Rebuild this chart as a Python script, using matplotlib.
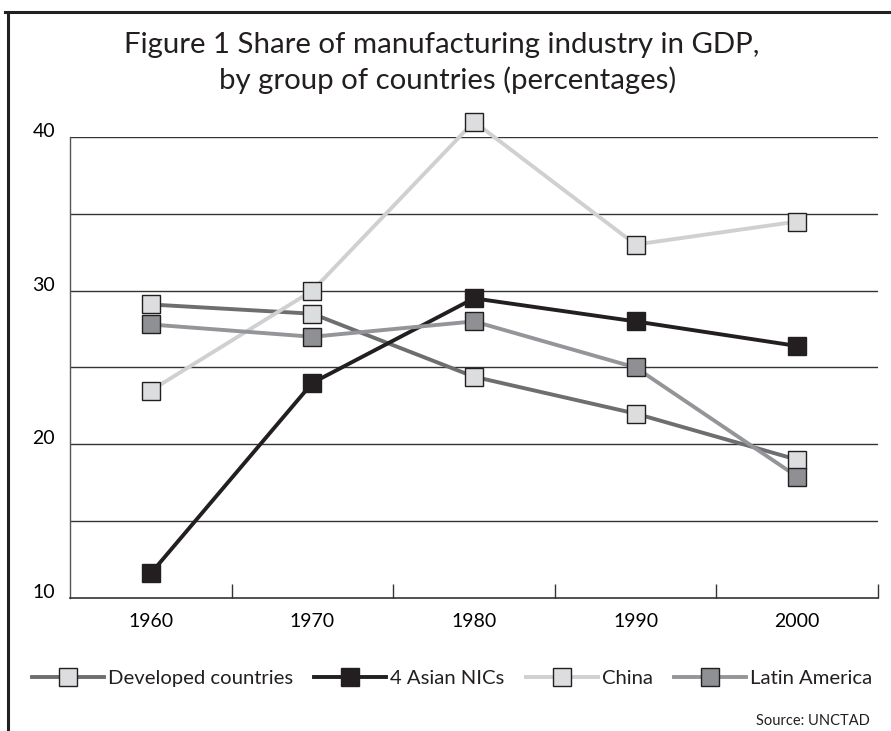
import matplotlib
matplotlib.use("Agg")
import matplotlib.pyplot as plt
from matplotlib.lines import Line2D
from matplotlib.ticker import FixedLocator

years = ["1960", "1970", "1980", "1990", "2000"]
developed = [29.1, 28.5, 24.4, 22.0, 19.0]
asian_nics = [11.6, 24.0, 29.5, 28.0, 26.4]
china = [23.5, 30.0, 41.0, 33.0, 34.5]
latin_america = [27.8, 27.0, 28.0, 25.0, 17.9]

series_names = ["Developed countries", "4 Asian NICs", "China", "Latin America"]
line_colors = ["#6d6e70", "#231f20", "#cfd0d2", "#939598"]
face_colors = ["#dcddde", "#231f20", "#dcddde", "#8f9093"]

y_ticks = [10, 20, 30, 40]
grid_levels = [15, 20, 25, 30, 35, 40]

W, H = 891, 731
INK = "#231f20"


def setup_fonts():
    plt.rcParams["font.family"] = ["Lato", "DejaVu Sans"]
    plt.rcParams["text.color"] = INK


def draw_frame(fig):
    # top and left border of the boxed figure
    fig.add_artist(Line2D([5 / W, 1.0], [1 - 12 / H, 1 - 12 / H],
                          transform=fig.transFigure, color=INK, lw=2.2))
    fig.add_artist(Line2D([8 / W, 8 / W], [1 - 12 / H, 0.0],
                          transform=fig.transFigure, color=INK, lw=2.2))


def draw_title(fig):
    fig.text(442 / W, 1 - 53 / H, "Figure 1 Share of manufacturing industry in GDP,",
             ha="center", va="baseline", fontsize=21.2)
    fig.text(448 / W, 1 - 89 / H, "by group of countries (percentages)",
             ha="center", va="baseline", fontsize=21.2)


def plot_series(ax):
    x = list(range(len(years)))
    data = [developed, asian_nics, china, latin_america]
    for values, name, lc, fc in zip(data, series_names, line_colors, face_colors):
        ax.plot(x, values, color=lc, lw=2.8, marker="s", markersize=13,
                markerfacecolor=fc, markeredgecolor=INK, markeredgewidth=1.0,
                label=name, clip_on=False, zorder=3)


def style_axes(ax):
    ax.set_xlim(-0.5, len(years) - 0.5)
    ax.set_ylim(10, 40)
    for level in grid_levels:
        ax.axhline(level, color="#333333", lw=1.0, zorder=1)
    ax.spines["top"].set_visible(False)
    ax.spines["right"].set_visible(False)
    ax.spines["left"].set_color("#555555")
    ax.spines["bottom"].set_color("#333333")
    ax.spines["left"].set_linewidth(1.0)
    ax.spines["bottom"].set_linewidth(1.2)

    ax.set_xticks(range(len(years)))
    ax.set_xticklabels(years, fontsize=14)
    ax.xaxis.set_minor_locator(FixedLocator([i + 0.5 for i in range(len(years))]))
    ax.tick_params(axis="x", which="major", length=0, pad=11)
    ax.tick_params(axis="x", which="minor", direction="in", length=10,
                   width=1.0, color="#333333")

    ax.set_yticks(y_ticks)
    ax.set_yticklabels([str(v) for v in y_ticks], fontsize=14)
    ax.tick_params(axis="y", length=0, pad=10.8)
    for label in ax.get_yticklabels():
        label.set_va("baseline")


def draw_legend(fig, ax):
    handles, labels = ax.get_legend_handles_labels()
    fig.legend(handles, labels, loc="center", ncol=4, frameon=False,
               bbox_to_anchor=(452 / W, 1 - 678 / H), fontsize=14.6,
               handlelength=3.55, handletextpad=0.2, columnspacing=1.05,
               markerscale=1.0)


def main():
    setup_fonts()
    fig = plt.figure(figsize=(W / 100, H / 100), dpi=100)
    ax = fig.add_axes([70 / W, 1 - 598 / H, (878 - 70) / W, (598 - 137) / H])
    draw_frame(fig)
    draw_title(fig)
    plot_series(ax)
    style_axes(ax)
    draw_legend(fig, ax)
    fig.text(870 / W, 1 - 721 / H, "Source: UNCTAD", ha="right", va="center",
             fontsize=10.5)
    fig.savefig("out.png", dpi=100)


if __name__ == "__main__":
    main()
